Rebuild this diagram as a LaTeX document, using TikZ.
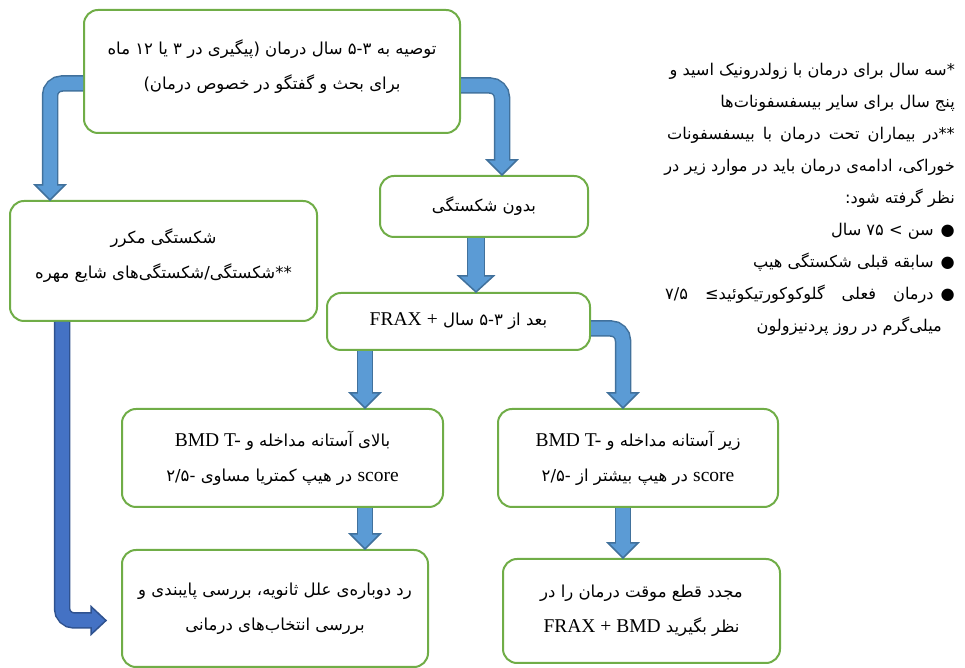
\documentclass[tikz,border=0pt]{standalone}
\usepackage{fontspec}
\usetikzlibrary{calc}
\TeXXeTstate=1
\newfontfamily\fafont[Script=Arabic]{DejaVu Sans}
\newfontfamily\enfont{Liberation Serif}
\newcommand{\entext}[1]{\beginL{\enfont\fontsize{19.5}{35}\selectfont #1}\endL}
\definecolor{boxgreen}{HTML}{70AD47}
\definecolor{fillblue}{HTML}{5B9BD5}
\definecolor{edgeblue}{HTML}{41719C}
\definecolor{fillnavy}{HTML}{4472C4}
\definecolor{edgenavy}{HTML}{2F528F}
\newcommand{\headdown}[2][arrowhead]{\filldraw[#1] (#2) -- ++(-15,15) -- ++(30,0) -- cycle;}
\newcommand{\headright}[2][arrowhead]{\filldraw[#1] (#2) -- ++(-15,14) -- ++(0,-28) -- cycle;}

\begin{document}
\begin{tikzpicture}[x=1pt,y=1pt]
  \tikzstyle{box}=[draw=boxgreen,line width=2pt,rounded corners=14pt,fill=white,align=center,inner sep=0pt,font=\fafont\fontsize{16.5}{35}\selectfont]
  \tikzstyle{note}=[anchor=base east,inner sep=0pt,font=\fafont\fontsize{16.2}{30}\selectfont]
  \tikzstyle{shaftedge}=[draw=edgeblue,line width=16.5pt,rounded corners=12pt]
  \tikzstyle{shaftbody}=[draw=fillblue,line width=13.5pt,rounded corners=12pt]
  \tikzstyle{arrowhead}=[fill=fillblue,draw=edgeblue,line width=1.5pt]
  \tikzstyle{navyhead}=[fill=fillnavy,draw=edgenavy,line width=1.5pt]

  \useasboundingbox (0,0) rectangle (965,668);

  \node (top) at (272,596.5) [box,minimum width=376pt,minimum height=123pt,text depth=14pt]
    {\beginR توصیه به ۵-۳ سال درمان (پیگیری در ۳ یا ۱۲ ماه\endR\\
     \beginR برای بحث و گفتگو در خصوص درمان)\endR};
  \node (recur) at (163.5,407) [box,minimum width=307pt,minimum height=120pt,text depth=14pt]
    {\beginR شکستگی مکرر\endR\\
     \beginR **شکستگی/شکستگی^^^^200cهای شایع مهره\endR};
  \node (nofrac) at (484,461.5) [box,minimum width=208pt,minimum height=61pt]
    {\beginR بدون شکستگی\endR};
  \node (after) at (458.5,346.5) [box,minimum width=263pt,minimum height=57pt]
    {\beginR بعد از ۵-۳ سال \entext{+}\ \entext{FRAX}\endR};
  \node (above) at (282.5,210) [box,minimum width=321pt,minimum height=98pt]
    {\beginR بالای آستانه مداخله و \entext{BMD T-}\endR\\
     \beginR \entext{score} در هیپ کمتریا مساوی -۲/۵\endR};
  \node (below) at (638,210) [box,minimum width=280pt,minimum height=98pt]
    {\beginR زیر آستانه مداخله و \entext{BMD T-}\endR\\
     \beginR \entext{score} در هیپ بیشتر از -۲/۵\endR};
  \node (recheck) at (275,59.5) [box,minimum width=306pt,minimum height=117pt]
    {\beginR رد دوباره^^^^200cی علل ثانویه، بررسی پایبندی و\endR\\
     \beginR بررسی انتخاب^^^^200cهای درمانی\endR};
  \node (holiday) at (641.5,57) [box,minimum width=277pt,minimum height=104pt]
    {\beginR مجدد قطع موقت درمان را در\endR\\
     \beginR نظر بگیرید \entext{FRAX + BMD}\endR};

  % notes on the right
  \node (note0) at (955,592) [note] {\beginR *سه سال برای درمان با زولدرونیک اسید و\endR};
  \node (note1) at (955,560.1) [note] {\beginR پنج سال برای سایر بیسفسفونات^^^^200cها\endR};
  \node (note2) at (955,528.2) [note] {\beginR **در\hspace{8pt}بیماران\hspace{8pt}تحت\hspace{8pt}درمان\hspace{8pt}با\hspace{8pt}بیسفسفونات\endR};
  \node (note3) at (955,496.3) [note] {\beginR خوراکی، ادامه^^^^200cی درمان باید در موارد زیر در\endR};
  \node (note4) at (955,464.4) [note] {\beginR نظر گرفته شود:\endR};
  \node (note5) at (955,432.5) [note] {\beginR ●\hspace{7pt}سن > ۷۵ سال\endR};
  \node (note6) at (955,400.6) [note] {\beginR ●\hspace{7pt}سابقه قبلی شکستگی هیپ\endR};
  \node (note7) at (955,368.7) [note] {\beginR ●\hspace{7pt}درمان\hspace{17pt}فعلی\hspace{17pt}گلوکوکورتیکوئید≥\hspace{17pt}۷/۵\endR};
  \node (note8) at (942,336.8) [note] {\beginR میلی^^^^200cگرم در روز پردنیزولون\endR};

  % arrow tips
  \coordinate (tip1) at (50,0 |- recur.north);
  \coordinate (tip2) at (502,0 |- nofrac.north);
  \coordinate (tip3) at (476,0 |- after.north);
  \coordinate (tip4) at (365,0 |- above.north);
  \coordinate (tip5) at (623,0 |- below.north);
  \coordinate (tip6) at (365,0 |- recheck.north);
  \coordinate (tip7) at (623,0 |- holiday.north);
  \coordinate (tip8) at ($(recheck.west)+(-15,-12)$);

  % top -> recurrent fracture
  \draw[shaftedge] ($(top.west)+(0,-12)$) -| ($(tip1)+(0,15)$);
  \headdown{tip1}
  \draw[shaftbody] ($(top.west)+(0,-12)$) -| ($(tip1)+(0,13)$);
  % top -> no fracture
  \draw[shaftedge] ($(top.east)+(0,-14)$) -| ($(tip2)+(0,15)$);
  \headdown{tip2}
  \draw[shaftbody] ($(top.east)+(0,-14)$) -| ($(tip2)+(0,13)$);
  % no fracture -> after 3-5 years
  \draw[shaftedge,line width=18.5pt] (476,0 |- nofrac.south) -- ($(tip3)+(0,16)$);
  \filldraw[arrowhead] (tip3) -- ++(-17.5,16) -- ++(35,0) -- cycle;
  \draw[shaftbody,line width=15.5pt] (476,0 |- nofrac.south) -- ($(tip3)+(0,14)$);
  % after -> above threshold
  \draw[shaftedge] (365,0 |- after.south) -- ($(tip4)+(0,15)$);
  \headdown{tip4}
  \draw[shaftbody] (365,0 |- after.south) -- ($(tip4)+(0,13)$);
  % after -> below threshold
  \draw[shaftedge] ($(after.east)+(0,-7)$) -| ($(tip5)+(0,15)$);
  \headdown{tip5}
  \draw[shaftbody] ($(after.east)+(0,-7)$) -| ($(tip5)+(0,13)$);
  % above -> recheck
  \draw[shaftedge] (365,0 |- above.south) -- ($(tip6)+(0,15)$);
  \headdown{tip6}
  \draw[shaftbody] (365,0 |- above.south) -- ($(tip6)+(0,13)$);
  % below -> drug holiday
  \draw[shaftedge] (623,0 |- below.south) -- ($(tip7)+(0,15)$);
  \headdown{tip7}
  \draw[shaftbody] (623,0 |- below.south) -- ($(tip7)+(0,13)$);
  % recurrent fracture -> recheck
  \draw[shaftedge,draw=edgenavy] (62,0 |- recur.south) |- ($(tip8)+(-15,0)$);
  \headright[navyhead]{tip8}
  \draw[shaftbody,draw=fillnavy] (62,0 |- recur.south) |- ($(tip8)+(-13,0)$);
\end{tikzpicture}
\end{document}
